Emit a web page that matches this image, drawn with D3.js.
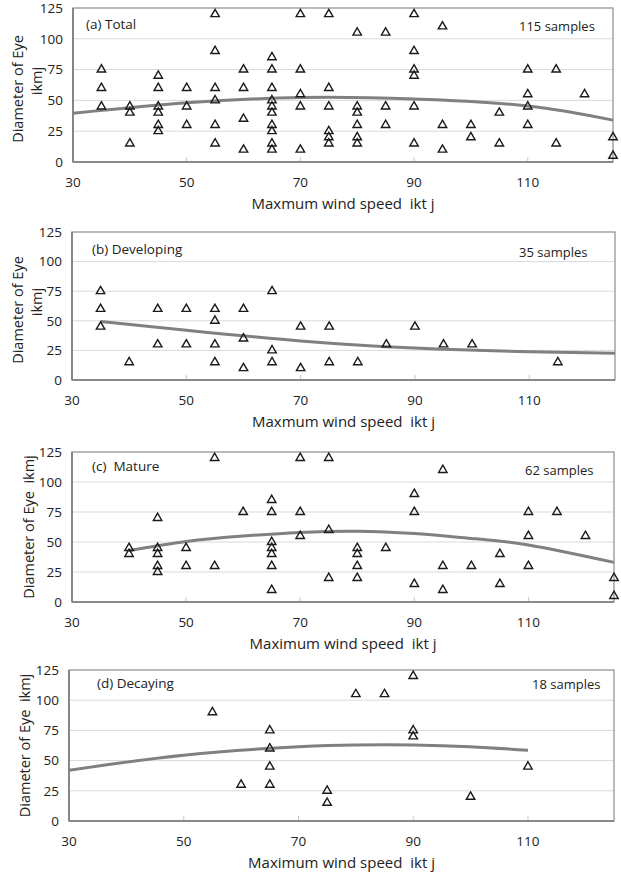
<!DOCTYPE html>
<html>
<head>
<meta charset="utf-8">
<script src="https://cdn.jsdelivr.net/npm/d3@7/dist/d3.min.js"></script>
<style>
  body { margin: 0; background: #fff; }
  svg { display: block; font-family: "Open Sans", sans-serif; fill: #222; }
  .grid line { stroke: #d9d9d9; stroke-width: 1; }
  .frame { fill: none; stroke: #8c8c8c; stroke-width: 1.2; }
  .axis-line { stroke: #7a7a7a; stroke-width: 1.6; }
  .xtick { stroke: #c8c8c8; stroke-width: 1; }
  .trend { fill: none; stroke: #808080; stroke-width: 3; }
  .pt { fill: none; stroke: #1a1a1a; stroke-width: 1.4; }
</style>
</head>
<body>
<svg id="chart" width="621" height="873"></svg>
<script>
'use strict'

// tick labels
const xTicks = [30, 50, 70, 90, 110]
const yTicks = [0, 25, 50, 75, 100, 125]

// [max wind speed (kt), eye diameter (km)]
const totalPoints = [
  [35, 75], [35, 60], [35, 45],
  [40, 45], [40, 40], [40, 15],
  [45, 70], [45, 60], [45, 45], [45, 40], [45, 30], [45, 25],
  [50, 60], [50, 45], [50, 30],
  [55, 120], [55, 90], [55, 60], [55, 50], [55, 30], [55, 15],
  [60, 75], [60, 60], [60, 35], [60, 10],
  [65, 85], [65, 75], [65, 60], [65, 50], [65, 45], [65, 40], [65, 30], [65, 25], [65, 15], [65, 10],
  [70, 120], [70, 75], [70, 55], [70, 45], [70, 10],
  [75, 120], [75, 60], [75, 45], [75, 25], [75, 20], [75, 15],
  [80, 105], [80, 45], [80, 40], [80, 30], [80, 20], [80, 15],
  [85, 105], [85, 45], [85, 30],
  [90, 120], [90, 90], [90, 75], [90, 70], [90, 45], [90, 15],
  [95, 110], [95, 30], [95, 10],
  [100, 30], [100, 20],
  [105, 40], [105, 15],
  [110, 75], [110, 55], [110, 45], [110, 30],
  [115, 75], [115, 15],
  [120, 55],
  [125, 20], [125, 5]
]

const developingPoints = [
  [35, 75], [35, 60], [35, 45],
  [40, 15],
  [45, 60], [45, 30],
  [50, 60], [50, 30],
  [55, 60], [55, 50], [55, 30], [55, 15],
  [60, 60], [60, 35], [60, 10],
  [65, 75], [65, 25], [65, 15],
  [70, 45], [70, 10],
  [75, 45], [75, 15],
  [80, 15],
  [85, 30],
  [90, 45],
  [95, 30],
  [100, 30],
  [115, 15]
]

const maturePoints = [
  [40, 45], [40, 40],
  [45, 70], [45, 45], [45, 40], [45, 30], [45, 25],
  [50, 45], [50, 30],
  [55, 120], [55, 30],
  [60, 75],
  [65, 85], [65, 75], [65, 50], [65, 45], [65, 40], [65, 30], [65, 10],
  [70, 120], [70, 75], [70, 55],
  [75, 120], [75, 60], [75, 20],
  [80, 45], [80, 40], [80, 30], [80, 20],
  [85, 45],
  [90, 90], [90, 75], [90, 15],
  [95, 110], [95, 30], [95, 10],
  [100, 30],
  [105, 40], [105, 15],
  [110, 75], [110, 55], [110, 30],
  [115, 75],
  [120, 55],
  [125, 20], [125, 5]
]

const decayingPoints = [
  [55, 90],
  [60, 30],
  [65, 75], [65, 60], [65, 45], [65, 30],
  [75, 25], [75, 15],
  [80, 105],
  [85, 105],
  [90, 120], [90, 75], [90, 70],
  [100, 20],
  [110, 45]
]

// trend lines, values
const totalTrend = [[30, 39.5], [50, 48], [70, 52.3], [90, 51.2], [110, 45.5], [125, 34]]
const developingTrend = [[35, 49.5], [50, 42], [70, 33], [90, 27], [110, 23.8], [125, 22.5]]
const matureTrend = [[40, 43], [50, 50.5], [60, 55], [70, 58], [80, 59], [90, 57], [100, 53], [110, 47.5], [125, 33]]
const decayingTrend = [[30, 42], [50, 54.5], [70, 61.5], [80, 63], [90, 63], [100, 61.5], [110, 58.5]]

const panels = [
  {
    points: totalPoints, trend: totalTrend,
    label: '(a) Total', samples: '115 samples',
    xTitle: 'Maxmum wind speed  ikt j', yTitle: ['Diameter of Eye', 'ikmj'],
    box: { left: 73, right: 613, top: 8, bottom: 162 },
    labelPos: [86, 24], samplesPos: [519, 26], yTitleX: [18, 37]
  },
  {
    points: developingPoints, trend: developingTrend,
    label: '(b) Developing', samples: '35 samples',
    xTitle: 'Maxmum wind speed  ikt j', yTitle: ['Diameter of Eye', 'ikmj'],
    box: { left: 72, right: 615, top: 232, bottom: 380 },
    labelPos: [92, 249], samplesPos: [519, 252], yTitleX: [18, 37]
  },
  {
    points: maturePoints, trend: matureTrend,
    label: '(c)  Mature', samples: '62 samples',
    xTitle: 'Maximum wind speed  ikt j', yTitle: ['Diameter of Eye  ikmj'],
    box: { left: 72, right: 614, top: 452, bottom: 602 },
    labelPos: [92, 466], samplesPos: [525, 470], yTitleX: [29]
  },
  {
    points: decayingPoints, trend: decayingTrend,
    label: '(d) Decaying', samples: '18 samples',
    xTitle: 'Maximum wind speed  ikt j', yTitle: ['Diameter of Eye  ikmj'],
    box: { left: 69, right: 614, top: 670, bottom: 821 },
    labelPos: [97, 683], samplesPos: [532, 684], yTitleX: [25]
  }
]

const svg = d3.select('#chart')
const triangle = d3.symbol().type(d3.symbolTriangle).size(31)

panels.forEach(p => {
  const b = p.box
  const x = d3.scaleLinear().domain([30, 125]).range([b.left, b.right])
  const y = d3.scaleLinear().domain([0, 125]).range([b.bottom, b.top])
  const g = svg.append('g')

  // horizontal gridlines
  g.append('g').attr('class', 'grid')
    .selectAll('line')
    .data(yTicks.filter(t => t > 0 && t < 125))
    .enter().append('line')
    .attr('x1', b.left).attr('x2', b.right)
    .attr('y1', d => y(d)).attr('y2', d => y(d))

  g.append('rect').attr('class', 'frame')
    .attr('x', b.left).attr('y', b.top)
    .attr('width', b.right - b.left).attr('height', b.bottom - b.top)

  // small inside tick marks on the x axis
  g.selectAll('.xtick')
    .data(xTicks.slice(1))
    .enter().append('line')
    .attr('class', 'xtick')
    .attr('x1', d => x(d)).attr('x2', d => x(d))
    .attr('y1', b.bottom).attr('y2', b.bottom - 5)

  g.append('line').attr('class', 'axis-line')
    .attr('x1', b.left).attr('x2', b.right)
    .attr('y1', b.bottom).attr('y2', b.bottom)
  g.append('line').attr('class', 'axis-line')
    .attr('x1', b.left).attr('x2', b.left)
    .attr('y1', b.top).attr('y2', b.bottom)

  // tick labels
  g.selectAll('.ylab')
    .data(yTicks)
    .enter().append('text')
    .attr('x', b.left - 10)
    .attr('y', d => y(d))
    .attr('dy', '0.35em')
    .attr('text-anchor', 'end')
    .style('font-size', '13.5px')
    .text(d => d)

  g.selectAll('.xlab')
    .data(xTicks)
    .enter().append('text')
    .attr('x', d => x(d))
    .attr('y', b.bottom + 20)
    .attr('dy', '0.35em')
    .attr('text-anchor', 'middle')
    .style('font-size', '13.5px')
    .text(d => d)

  g.append('text')
    .attr('x', (b.left + b.right) / 2)
    .attr('y', b.bottom + 47)
    .attr('text-anchor', 'middle')
    .style('font-size', '15px')
    .style('white-space', 'pre')
    .text(p.xTitle)

  // y title, one or two rotated lines
  const yMid = (b.top + b.bottom) / 2
  p.yTitle.forEach((line, i) => {
    const cy = p.yTitle.length === 2 ? yMid + (i === 0 ? 4 : -4) : yMid
    g.append('text')
      .attr('transform', `translate(${p.yTitleX[i]},${cy}) rotate(-90)`)
      .attr('dy', '0.35em')
      .attr('text-anchor', 'middle')
      .style('font-size', '14.5px')
      .style('white-space', 'pre')
      .text(line)
  })

  g.append('text')
    .attr('x', p.labelPos[0]).attr('y', p.labelPos[1])
    .attr('dy', '0.35em')
    .style('font-size', '13.5px')
    .style('white-space', 'pre')
    .text(p.label)

  g.append('text')
    .attr('x', p.samplesPos[0]).attr('y', p.samplesPos[1])
    .attr('dy', '0.35em')
    .style('font-size', '13px')
    .text(p.samples)

  const line = d3.line()
    .x(d => x(d[0]))
    .y(d => y(d[1]))
    .curve(d3.curveNatural)

  g.append('path').attr('class', 'trend').attr('d', line(p.trend))

  g.selectAll('.pt')
    .data(p.points)
    .enter().append('path')
    .attr('class', 'pt')
    .attr('transform', d => `translate(${x(d[0])},${y(d[1])})`)
    .attr('d', triangle)
})
</script>
</body>
</html>
